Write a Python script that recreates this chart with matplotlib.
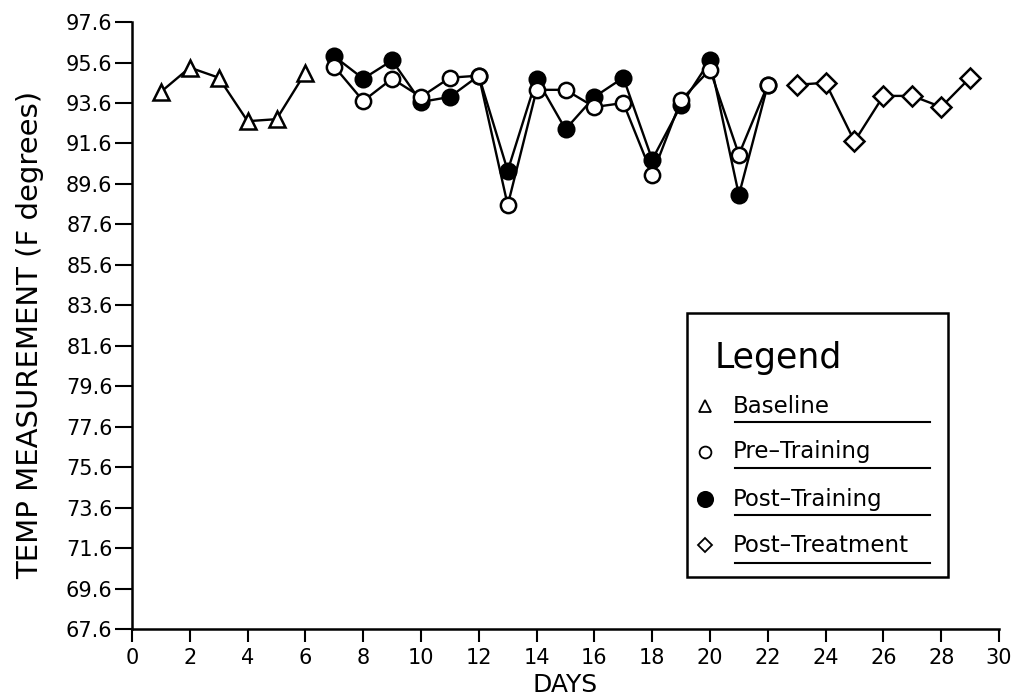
import matplotlib.pyplot as plt
import matplotlib.lines as mlines

plt.rcParams['font.family'] = ['DejaVu Sans']

# Daily temperature readings (F degrees)
baseline_days = [1, 2, 3, 4, 5, 6]
baseline_temp = [94.15, 95.35, 94.85, 92.7, 92.8, 95.1]

pre_days = [7, 8, 9, 10, 11, 12, 13, 14, 15, 16, 17, 18, 19, 20, 21, 22]
pre_temp = [95.4, 93.7, 94.8, 93.9, 94.85, 94.95, 88.55, 94.25, 94.25, 93.4,
            93.6, 90.05, 93.75, 95.25, 91.05, 94.5]

post_days = [7, 8, 9, 10, 11, 12, 13, 14, 15, 16, 17, 18, 19, 20, 21, 22]
post_temp = [95.9, 94.8, 95.7, 93.65, 93.9, 94.95, 90.25, 94.8, 92.3, 93.9,
             94.85, 90.8, 93.5, 95.7, 89.05, 94.5]

treat_days = [23, 24, 25, 26, 27, 28, 29]
treat_temp = [94.5, 94.6, 91.7, 93.95, 93.95, 93.4, 94.85]

legend_labels = ["Baseline", "Pre\u2013Training", "Post\u2013Training", "Post\u2013Treatment"]

fig = plt.figure(figsize=(10.14, 7.0), dpi=100)
ax = fig.add_axes([0.1302, 0.1014, 0.855, 0.8671])

ink = "black"
lw = 1.7

ax.plot(baseline_days, baseline_temp, color=ink, lw=lw, marker="^", ms=11.5,
        mfc="white", mec=ink, mew=1.8, zorder=3)
ax.plot(post_days, post_temp, color=ink, lw=lw, marker="o", ms=11.5,
        mfc=ink, mec=ink, mew=1.5, zorder=3)
ax.plot(pre_days, pre_temp, color=ink, lw=lw, marker="o", ms=11,
        mfc="white", mec=ink, mew=1.8, zorder=4)
ax.plot(treat_days, treat_temp, color=ink, lw=lw, marker="D", ms=10,
        mfc="white", mec=ink, mew=1.8, zorder=3)

ax.set_xlim(0, 30)
ax.set_ylim(67.6, 97.6)
ax.set_xticks(range(0, 31, 2))
yt = [67.6 + 2 * i for i in range(16)]
ax.set_yticks(yt)
ax.set_yticklabels([f"{v:.1f}" for v in yt])

for side in ("top", "right"):
    ax.spines[side].set_visible(False)
for side in ("left", "bottom"):
    ax.spines[side].set_linewidth(1.8)
ax.tick_params(axis="y", direction="out", length=12, width=1.5,
               labelsize=15, pad=2)
ax.tick_params(axis="x", direction="out", length=9, width=1.5,
               labelsize=15, pad=5)

fig.text(565 / 1014, 1 - 685 / 700, "DAYS", fontsize=18,
         ha="center", va="center")
fig.text(30 / 1014, 1 - 335 / 700, "TEMP MEASUREMENT (F degrees)", fontsize=21,
         rotation=90, ha="center", va="center")

# Legend panel drawn by hand with underlined entries
box = plt.Rectangle((0.640, 0.086), 0.301, 0.435, transform=ax.transAxes,
                    fill=False, lw=1.8, ec=ink, zorder=5)
ax.add_patch(box)
ax.text(0.672, 0.446, "Legend", transform=ax.transAxes, fontsize=25,
        va="center", ha="left", zorder=6)

entry_y = [0.367, 0.292, 0.214, 0.138]
line_y = [0.341, 0.265, 0.188, 0.109]
markers = [("^", "white", 9), ("o", "white", 8.5), ("o", ink, 11), ("D", "white", 7)]
for yy, ly, lab, (m, fc, ms) in zip(entry_y, line_y, legend_labels, markers):
    ax.add_line(mlines.Line2D([0.661], [yy], marker=m, ms=ms, mfc=fc, mec=ink,
                              mew=1.3, transform=ax.transAxes, zorder=6))
    ax.text(0.693, yy, lab, transform=ax.transAxes, fontsize=16.5,
            va="center", ha="left", zorder=6)
    ax.add_line(mlines.Line2D([0.695, 0.920], [ly, ly], color=ink, lw=1.5,
                              transform=ax.transAxes, zorder=6))

fig.savefig("out.png", dpi=100, facecolor="white")
